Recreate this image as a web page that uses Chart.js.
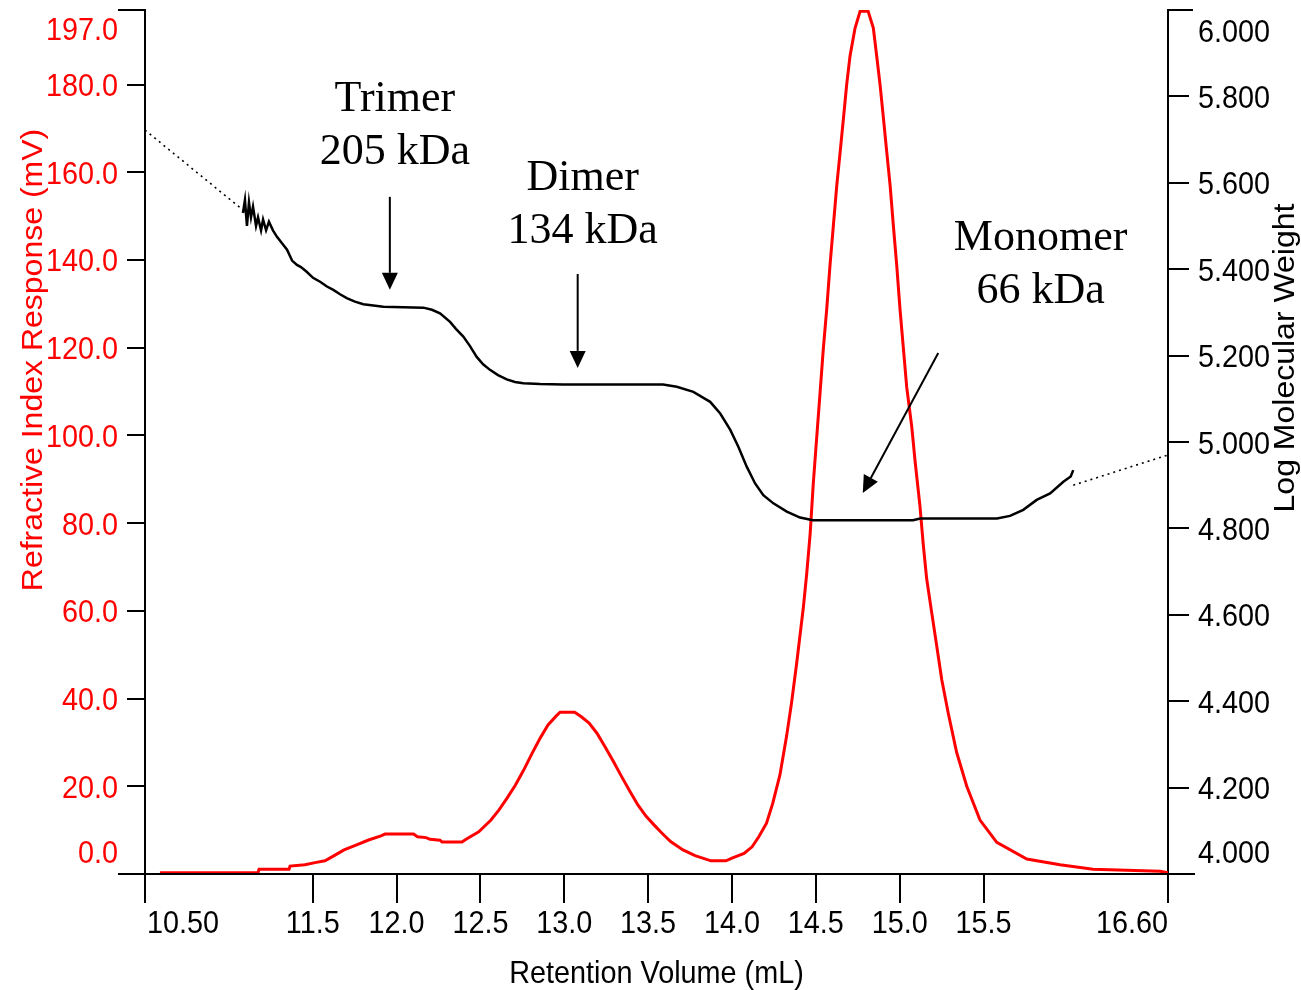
<!DOCTYPE html>
<html>
<head>
<meta charset="utf-8">
<title>SEC - RI and molecular weight</title>
<script src="https://cdn.jsdelivr.net/npm/chart.js@4.4.1/dist/chart.umd.min.js"></script>
<style>
  html, body { margin: 0; padding: 0; background: #fff; }
  canvas { display: block; }
</style>
</head>
<body>
<canvas id="secChart" width="1301" height="990"></canvas>
<script>
// RI trace: retention volume (mL) and response (mV)
const riVolume = [
  10.589, 11.174, 11.180, 11.359, 11.365, 11.454, 11.514, 11.573, 11.615, 11.687,
  11.758, 11.833, 11.907, 11.931, 12.101, 12.125, 12.176, 12.200, 12.259, 12.271,
  12.390, 12.417, 12.490, 12.563, 12.611, 12.659, 12.709, 12.758, 12.808, 12.855,
  12.903, 12.951, 12.975, 13.062, 13.100, 13.148, 13.195, 13.243, 13.294, 13.342,
  13.392, 13.440, 13.487, 13.535, 13.583, 13.634, 13.708, 13.780, 13.875, 13.964,
  14.000, 14.072, 14.120, 14.160, 14.206, 14.243, 14.286, 14.326, 14.356, 14.386,
  14.406, 14.426, 14.446, 14.466, 14.485, 14.505, 14.525, 14.545, 14.565, 14.585,
  14.605, 14.625, 14.645, 14.665, 14.684, 14.704, 14.734, 14.764, 14.812, 14.843,
  14.863, 14.883, 14.903, 14.923, 14.943, 14.962, 14.982, 15.002, 15.022, 15.042,
  15.072, 15.092, 15.121, 15.141, 15.161, 15.191, 15.221, 15.251, 15.290, 15.340,
  15.400, 15.479, 15.579, 15.758, 15.956, 16.153, 16.553, 16.600
];
const riResponse = [
  0.3, 0.3, 1.1, 1.1, 1.8, 2.1, 2.6, 3.0, 3.9, 5.5,
  6.6, 7.75, 8.7, 9.1, 9.1, 8.5, 8.3, 7.9, 7.7, 7.3,
  7.3, 8.0, 9.6, 12.3, 14.6, 17.3, 20.3, 23.7, 27.5, 30.9,
  34.0, 36.0, 36.9, 36.9, 35.9, 34.4, 32.1, 29.0, 25.6, 22.2,
  18.8, 15.7, 13.2, 11.2, 9.3, 7.4, 5.5, 4.2, 3.0, 3.0,
  3.6, 4.7, 6.2, 8.5, 11.6, 16.1, 22.6, 31.5, 39.2, 48.1,
  54.5, 60.9, 68.6, 77.5, 89.1, 99.4, 109.6, 119.9, 128.8, 139.0,
  148.0, 157.0, 164.6, 172.4, 180.0, 186.5, 192.9, 196.7, 196.7, 192.9,
  186.5, 180.0, 172.4, 164.6, 157.0, 148.0, 139.0, 128.8, 119.9, 111.0,
  102.0, 94.1, 83.9, 75.0, 67.3, 59.6, 52.0, 44.3, 36.6, 27.7,
  20.0, 12.3, 7.2, 3.4, 2.1, 1.1, 0.6, 0.3
];

// MW trace: retention volume (mL) and log molecular weight
const mwVolume = [
  11.084, 11.096, 11.108, 11.120, 11.132, 11.144, 11.162, 11.174, 11.192, 11.204,
  11.222, 11.239, 11.263, 11.287, 11.317, 11.347, 11.377, 11.406, 11.430, 11.464,
  11.502, 11.544, 11.585, 11.623, 11.663, 11.703, 11.752, 11.802, 11.921, 12.160,
  12.211, 12.259, 12.319, 12.354, 12.398, 12.438, 12.478, 12.516, 12.557, 12.605,
  12.657, 12.706, 12.756, 12.855, 12.993, 13.589, 13.671, 13.770, 13.840, 13.870,
  13.930, 13.990, 14.038, 14.088, 14.138, 14.187, 14.247, 14.327, 14.406, 14.483,
  15.080, 15.122, 15.580, 15.658, 15.737, 15.817, 15.897, 15.976, 16.020, 16.035
];
const mwLog = [
  5.530, 5.560, 5.500, 5.555, 5.520, 5.545, 5.500, 5.520, 5.490, 5.515,
  5.490, 5.510, 5.490, 5.475, 5.460, 5.445, 5.420, 5.410, 5.405, 5.394,
  5.380, 5.371, 5.360, 5.352, 5.342, 5.333, 5.325, 5.319, 5.313, 5.311,
  5.306, 5.298, 5.278, 5.262, 5.244, 5.222, 5.197, 5.180, 5.167, 5.155,
  5.145, 5.139, 5.136, 5.134, 5.133, 5.133, 5.128, 5.116, 5.100, 5.093,
  5.066, 5.028, 4.989, 4.943, 4.904, 4.877, 4.858, 4.839, 4.825, 4.819,
  4.819, 4.823, 4.823, 4.829, 4.843, 4.866, 4.881, 4.908, 4.920, 4.935
];

// dotted extrapolation of the MW fit at both ends
const extLeftVolume = [10.50, 11.084];
const extLeftLog = [5.722, 5.537];
const extRightVolume = [16.035, 16.60];
const extRightLog = [4.900, 4.970];

// axis ticks
const xTicks = [10.5, 11.5, 12.0, 12.5, 13.0, 13.5, 14.0, 14.5, 15.0, 15.5, 16.6];
const xTickLabels = ['10.50', '11.5', '12.0', '12.5', '13.0', '13.5', '14.0', '14.5', '15.0', '15.5', '16.60'];
const riTicks = [0, 20, 40, 60, 80, 100, 120, 140, 160, 180, 197];
const riTickLabels = ['0.0', '20.0', '40.0', '60.0', '80.0', '100.0', '120.0', '140.0', '160.0', '180.0', '197.0'];
const mwTicks = [4.0, 4.2, 4.4, 4.6, 4.8, 5.0, 5.2, 5.4, 5.6, 5.8, 6.0];
const mwTickLabels = ['4.000', '4.200', '4.400', '4.600', '4.800', '5.000', '5.200', '5.400', '5.600', '5.800', '6.000'];

// peak annotations, placed in data units (mL, mV)
const peakNames = ['Trimer', 'Dimer', 'Monomer'];
const peakMasses = ['205 kDa', '134 kDa', '66 kDa'];
const labelVolume = [11.99, 13.11, 15.84];
const labelResponse = [177.2, 159.1, 145.5];
const arrowFromVolume = [11.96, 13.08, 15.23];
const arrowFromResponse = [154.4, 136.8, 118.8];
const arrowToVolume = [11.96, 13.08, 14.78];
const arrowToResponse = [133.2, 115.4, 86.9];

const SANS = '32px "Liberation Sans", Arial, sans-serif';
const SERIF = '44px "Liberation Serif", "Times New Roman", serif';

const toPoints = (xs, ys) => xs.map((v, i) => ({ x: v, y: ys[i] }));

// the source image is slightly narrow, so sans text is squeezed horizontally
function drawText(ctx, str, x, y, opts) {
  ctx.save();
  ctx.translate(x, y);
  ctx.scale(opts.squeeze || 1, 1);
  if (opts.rotate) ctx.rotate(-Math.PI / 2);
  ctx.font = opts.font;
  ctx.fillStyle = opts.color || '#000';
  ctx.textAlign = opts.align || 'left';
  ctx.textBaseline = 'alphabetic';
  ctx.fillText(str, 0, 0);
  ctx.restore();
}

function drawArrow(ctx, x0, y0, x1, y1) {
  const ang = Math.atan2(y1 - y0, x1 - x0);
  const len = 17, half = 8;
  const bx = x1 - len * Math.cos(ang), by = y1 - len * Math.sin(ang);
  ctx.beginPath();
  ctx.moveTo(x0, y0);
  ctx.lineTo(bx, by);
  ctx.stroke();
  ctx.beginPath();
  ctx.moveTo(x1, y1);
  ctx.lineTo(bx + half * Math.sin(ang), by - half * Math.cos(ang));
  ctx.lineTo(bx - half * Math.sin(ang), by + half * Math.cos(ang));
  ctx.closePath();
  ctx.fill();
}

const decorPlugin = {
  id: 'decor',
  afterDraw(chart) {
    const { ctx, chartArea: area, scales: { x, y, y2 } } = chart;
    const sq = 0.9;

    ctx.save();
    ctx.strokeStyle = '#000';
    ctx.fillStyle = '#000';
    ctx.lineWidth = 2;

    // x axis line runs past both vertical axes, plus the short top caps
    ctx.beginPath();
    ctx.moveTo(area.left - 27, area.bottom);
    ctx.lineTo(area.right + 27, area.bottom);
    ctx.moveTo(area.left - 27, y.getPixelForValue(197));
    ctx.lineTo(area.left, y.getPixelForValue(197));
    ctx.moveTo(area.right, y2.getPixelForValue(6.0));
    ctx.lineTo(area.right + 25, y2.getPixelForValue(6.0));
    ctx.stroke();

    // left tick labels (end labels sit inside the axis range)
    riTicks.forEach((v, i) => {
      let py = y.getPixelForValue(v) + 11.5;
      if (i === 0) py = y.getPixelForValue(v) - 11;
      if (i === riTicks.length - 1) py = y.getPixelForValue(v) + 30;
      drawText(ctx, riTickLabels[i], area.left - 27, py,
        { font: SANS, color: '#ff0000', align: 'right', squeeze: sq });
    });

    // right tick labels
    mwTicks.forEach((v, i) => {
      let py = y2.getPixelForValue(v) + 11.5;
      if (i === 0) py = y2.getPixelForValue(v) - 11;
      if (i === mwTicks.length - 1) py = y2.getPixelForValue(v) + 32;
      drawText(ctx, mwTickLabels[i], area.right + 30, py,
        { font: SANS, color: '#000', align: 'left', squeeze: sq });
    });

    // bottom tick labels
    xTicks.forEach((v, i) => {
      let align = 'center', px = x.getPixelForValue(v);
      if (i === 0) { align = 'left'; px += 2; }
      if (i === xTicks.length - 1) align = 'right';
      drawText(ctx, xTickLabels[i], px, area.bottom + 59,
        { font: SANS, color: '#000', align: align, squeeze: sq });
    });

    // axis titles
    drawText(ctx, 'Retention Volume (mL)', (area.left + area.right) / 2, area.bottom + 109,
      { font: SANS, color: '#000', align: 'center', squeeze: sq });
    drawText(ctx, 'Refractive Index Response (mV)', 42, 360,
      { font: SANS, color: '#ff0000', align: 'center', squeeze: sq, rotate: true });
    drawText(ctx, 'Log Molecular Weight', 1294, 358,
      { font: SANS, color: '#000', align: 'center', squeeze: sq, rotate: true });

    // peak labels and arrows
    peakNames.forEach((name, i) => {
      const px = x.getPixelForValue(labelVolume[i]);
      const py = y.getPixelForValue(labelResponse[i]);
      drawText(ctx, name, px, py + 14, { font: SERIF, color: '#000', align: 'center' });
      drawText(ctx, peakMasses[i], px, py + 67, { font: SERIF, color: '#000', align: 'center' });
      drawArrow(ctx,
        x.getPixelForValue(arrowFromVolume[i]), y.getPixelForValue(arrowFromResponse[i]),
        x.getPixelForValue(arrowToVolume[i]), y.getPixelForValue(arrowToResponse[i]));
    });
    ctx.restore();
  }
};

const ctx = document.getElementById('secChart').getContext('2d');
new Chart(ctx, {
  type: 'line',
  data: {
    datasets: [
      {
        label: 'Log MW',
        data: toPoints(mwVolume, mwLog),
        yAxisID: 'y2',
        borderColor: '#000',
        borderWidth: 2.5,
        pointRadius: 0,
        tension: 0
      },
      {
        label: 'MW fit (left)',
        data: toPoints(extLeftVolume, extLeftLog),
        yAxisID: 'y2',
        borderColor: '#000',
        borderWidth: 1.6,
        borderDash: [2, 4],
        pointRadius: 0
      },
      {
        label: 'MW fit (right)',
        data: toPoints(extRightVolume, extRightLog),
        yAxisID: 'y2',
        borderColor: '#000',
        borderWidth: 1.6,
        borderDash: [2, 4],
        pointRadius: 0
      },
      {
        label: 'RI',
        data: toPoints(riVolume, riResponse),
        yAxisID: 'y',
        borderColor: '#ff0000',
        borderWidth: 3,
        pointRadius: 0,
        tension: 0
      }
    ]
  },
  options: {
    responsive: false,
    animation: false,
    events: [],
    layout: { padding: { top: 10, left: 0, right: 0, bottom: 0 } },
    plugins: { legend: { display: false }, tooltip: { enabled: false } },
    scales: {
      x: {
        type: 'linear',
        min: 10.5,
        max: 16.6,
        afterBuildTicks: s => { s.ticks = xTicks.map(v => ({ value: v })); },
        afterFit: s => { s.height = 116; },
        ticks: { display: false },
        grid: { drawOnChartArea: false, tickLength: 29, color: '#000', lineWidth: 2 },
        border: { color: '#000', width: 2 }
      },
      y: {
        position: 'left',
        min: 0,
        max: 197,
        afterBuildTicks: s => { s.ticks = riTicks.map(v => ({ value: v })); },
        afterFit: s => { s.width = 145; },
        ticks: { display: false },
        grid: { drawOnChartArea: false, tickLength: 18, color: '#000', lineWidth: 2 },
        border: { color: '#000', width: 2 }
      },
      y2: {
        position: 'right',
        min: 4.0,
        max: 6.0,
        afterBuildTicks: s => { s.ticks = mwTicks.map(v => ({ value: v })); },
        afterFit: s => { s.width = 133; },
        ticks: { display: false },
        grid: { drawOnChartArea: false, tickLength: 21, color: '#000', lineWidth: 2 },
        border: { color: '#000', width: 2 }
      }
    }
  },
  plugins: [decorPlugin]
});
</script>
</body>
</html>
